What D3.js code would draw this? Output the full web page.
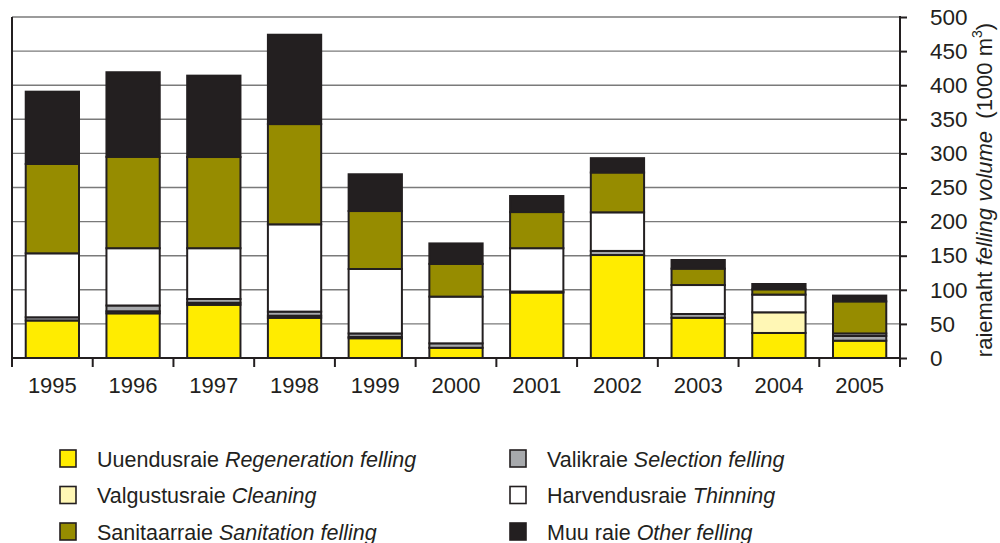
<!DOCTYPE html>
<html>
<head>
<meta charset="utf-8">
<script src="https://cdn.jsdelivr.net/npm/d3@7"></script>
<style>
  html, body { margin: 0; padding: 0; background: #fff; }
  svg { display: block; font-family: "Liberation Sans", Arial, sans-serif; }
</style>
</head>
<body>
<svg id="chart" width="1000" height="543"></svg>
<script>
// Felling volume by type of felling, 1000 m3
const years = ["1995","1996","1997","1998","1999","2000","2001","2002","2003","2004","2005"];
const regeneration = [55, 65.5, 78, 59, 29, 15, 96, 151, 59, 36.7, 25.4];
const cleaning     = [0, 3, 3, 3, 2, 0, 0, 0, 0, 30.3, 0];
const selection    = [4.7, 8.5, 5.5, 6, 5, 6.5, 1.5, 6, 5.5, 0, 6.9];
const thinning     = [93.8, 84, 74.5, 128, 94.5, 68.5, 63.5, 56.6, 42.5, 26, 3.7];
const sanitation   = [131, 134, 133.7, 147, 85, 48, 53, 58.4, 24, 7.7, 47];
const other        = [106, 124, 119.3, 131, 53.9, 30, 23.5, 21, 12.7, 7.8, 8.5];
const yTicks = [0, 50, 100, 150, 200, 250, 300, 350, 400, 450, 500];

const seriesKeys = ["regeneration","cleaning","selection","thinning","sanitation","other"];
const seriesData = {regeneration, cleaning, selection, thinning, sanitation, other};
const colors = {
  regeneration: "#ffec00",
  cleaning: "#fff7b5",
  selection: "#a7a9ac",
  thinning: "#ffffff",
  sanitation: "#968c00",
  other: "#231f20"
};
const legendItems = [
  {key: "regeneration", et: "Uuendusraie", en: "Regeneration felling"},
  {key: "cleaning",     et: "Valgustusraie", en: "Cleaning"},
  {key: "sanitation",   et: "Sanitaarraie", en: "Sanitation felling"},
  {key: "selection",    et: "Valikraie", en: "Selection felling"},
  {key: "thinning",     et: "Harvendusraie", en: "Thinning"},
  {key: "other",        et: "Muu raie", en: "Other felling"}
];

const rows = years.map((yr, i) => {
  const r = {year: yr};
  seriesKeys.forEach(k => r[k] = seriesData[k][i]);
  return r;
});

const svg = d3.select("#chart");
const plotLeft = 12, plotRight = 900, plotTop = 17, plotBottom = 358;
const ink = "#231f20";

const x = d3.scaleBand().domain(years).range([plotLeft, plotRight]).paddingInner(0.34).paddingOuter(0.17);
const y = d3.scaleLinear().domain([0, 500]).range([plotBottom, plotTop]);

// horizontal gridlines (including the top frame line)
svg.append("g").selectAll("line").data(yTicks.filter(t => t > 0)).join("line")
  .attr("x1", plotLeft).attr("x2", plotRight)
  .attr("y1", d => y(d)).attr("y2", d => y(d))
  .attr("stroke", "#7a7a7a").attr("stroke-width", 1.4);

// stacked bars
const stacked = d3.stack().keys(seriesKeys)(rows);
svg.append("g").selectAll("g").data(stacked).join("g")
  .attr("fill", d => colors[d.key])
  .selectAll("rect").data(d => d.filter(s => s[1] - s[0] > 0)).join("rect")
  .attr("x", d => x(d.data.year))
  .attr("width", x.bandwidth())
  .attr("y", d => y(d[1]))
  .attr("height", d => y(d[0]) - y(d[1]))
  .attr("stroke", ink).attr("stroke-width", 2);

// left frame line
svg.append("line").attr("x1", plotLeft).attr("x2", plotLeft).attr("y1", plotTop).attr("y2", plotBottom)
  .attr("stroke", ink).attr("stroke-width", 2);

// bottom axis with ticks at category boundaries
const step = x.step();
const bounds = d3.range(years.length + 1).map(i => plotLeft + i * step);
const xAxis = svg.append("g");
xAxis.append("line").attr("x1", plotLeft - 1).attr("x2", plotRight + 1).attr("y1", plotBottom).attr("y2", plotBottom)
  .attr("stroke", ink).attr("stroke-width", 2);
xAxis.selectAll("line.tick").data(bounds).join("line").attr("class", "tick")
  .attr("x1", d => d).attr("x2", d => d).attr("y1", plotBottom).attr("y2", plotBottom + 9)
  .attr("stroke", ink).attr("stroke-width", 2);
xAxis.selectAll("text").data(years).join("text")
  .attr("x", d => x(d) + x.bandwidth() / 2).attr("y", 393)
  .attr("text-anchor", "middle").attr("font-size", 22).attr("fill", ink)
  .text(d => d);

// right value axis
const yAxis = svg.append("g").attr("transform", `translate(${plotRight},0)`)
  .call(d3.axisRight(y).tickValues(yTicks).tickSize(7).tickPadding(23).tickFormat(d3.format("d")));
yAxis.select(".domain").attr("stroke", ink).attr("stroke-width", 2)
  .attr("d", `M0,${plotTop - 1}V${plotBottom + 1}`);
yAxis.selectAll(".tick line").attr("stroke", ink).attr("stroke-width", 2);
yAxis.selectAll(".tick text").attr("font-size", 22.5).attr("fill", ink)
  .attr("font-family", "Liberation Sans, Arial, sans-serif");

// axis title
const title = svg.append("text")
  .attr("transform", `translate(992,190) rotate(-90)`)
  .attr("text-anchor", "middle").attr("font-size", 22).attr("fill", ink);
title.append("tspan").text("raiemaht ");
title.append("tspan").attr("font-style", "italic").text("felling volume");
title.append("tspan").attr("xml:space", "preserve").text("  (1000 m");
title.append("tspan").attr("font-size", 14).attr("dy", -10).text("3");
title.append("tspan").attr("dy", 10).text(")");

// legend
const legend = svg.append("g");
const li = legend.selectAll("g").data(legendItems).join("g")
  .attr("transform", (d, i) => `translate(${i < 3 ? 60 : 510},${450 + (i % 3) * 36.5})`);
li.append("rect").attr("width", 16).attr("height", 17)
  .attr("fill", d => colors[d.key]).attr("stroke", ink).attr("stroke-width", 1.6);
const lt = li.append("text").attr("x", 37).attr("y", 16.5).attr("font-size", 21.5).attr("fill", ink);
lt.append("tspan").text(d => d.et + " ");
lt.append("tspan").attr("font-style", "italic").text(d => d.en);
</script>
</body>
</html>
